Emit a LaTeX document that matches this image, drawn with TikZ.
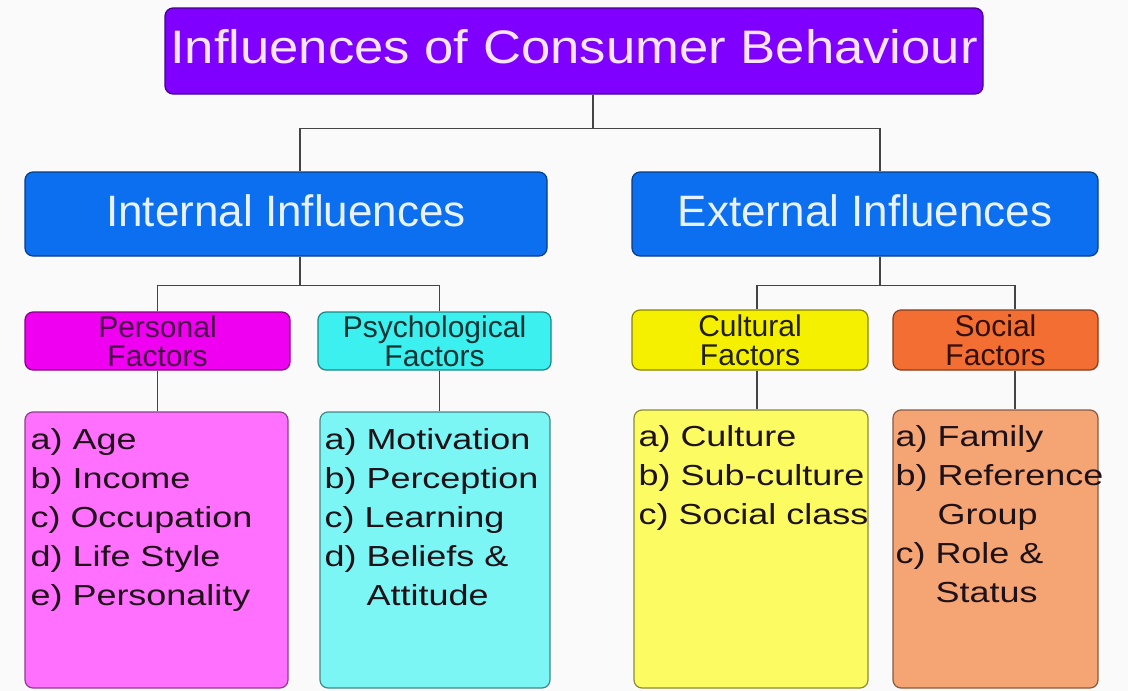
\documentclass[tikz,border=0pt]{standalone}
\usepackage{fontspec}
\setmainfont{Liberation Sans}
\newfontfamily\titlefont[FakeStretch=1.12]{Liberation Sans}
\newfontfamily\listfont[FakeStretch=1.24]{Liberation Sans}

\definecolor{pagebg}{HTML}{FBFAFA}
\definecolor{linkgray}{HTML}{444444}
\definecolor{titlefill}{HTML}{7F00FF}
\definecolor{titletext}{HTML}{F8E4F8}
\definecolor{headfill}{HTML}{0C6FF0}
\definecolor{headtext}{HTML}{E8F2FF}
\definecolor{persfill}{HTML}{F000F0}
\definecolor{perstext}{HTML}{4A0048}
\definecolor{psychfill}{HTML}{3CF0F0}
\definecolor{psychtext}{HTML}{103434}
\definecolor{cultfill}{HTML}{F5F000}
\definecolor{culttext}{HTML}{222000}
\definecolor{socfill}{HTML}{F26E32}
\definecolor{soctext}{HTML}{331000}
\definecolor{perslist}{HTML}{FF70FF}
\definecolor{psychlist}{HTML}{7CF5F5}
\definecolor{cultlist}{HTML}{FCFC62}
\definecolor{soclist}{HTML}{F5A474}
\definecolor{listtextcol}{HTML}{1E1218}

\begin{document}
\begin{tikzpicture}[x=1pt,y=-1pt,
  box/.style={draw=#1!55!black, fill=#1, rounded corners=8pt, line width=1.2pt, inner sep=0pt},
  head/.style={minimum height=84pt, text=headtext, text depth=6pt, font=\fontsize{44}{48}\selectfont},
  factor/.style={minimum height=58pt, align=center, font=\fontsize{30}{29}\selectfont},
  listtext/.style={align=left, inner sep=0pt, text=listtextcol, font=\listfont\fontsize{29}{39}\selectfont},
  link/.style={draw=linkgray, line width=1.6pt}]

\path[use as bounding box, fill=pagebg] (0,0) rectangle (1128,691);

\node[box=titlefill, minimum width=818pt, minimum height=86pt, text=titletext, text depth=9pt,
  font=\titlefont\fontsize{47}{50}\selectfont] (title) at (574,51) {Influences of Consumer Behaviour};

\node[box=headfill, head, minimum width=522pt] (internal) at (286,214) {Internal Influences};
\node[box=headfill, head, minimum width=466pt] (external) at (865,214) {External Influences};

\node[box=persfill, factor, minimum width=265pt, text=perstext] (personal) at (157.5,341) {Personal\\Factors};
\node[box=psychfill, factor, minimum width=233pt, text=psychtext] (psych) at (434.5,341) {Psychological\\Factors};
\node[box=cultfill, factor, minimum width=236pt, minimum height=60pt, text=culttext] (cultural) at (750,340) {Cultural\\Factors};
\node[box=socfill, factor, minimum width=205pt, minimum height=60pt, text=soctext] (social) at (995.5,340) {Social\\Factors};

\node[box=perslist, minimum width=263pt, minimum height=276pt] (perslistbox) at (156.5,550) {};
\node[box=psychlist, minimum width=230pt, minimum height=276pt] (psychlistbox) at (435,550) {};
\node[box=cultlist, minimum width=234pt, minimum height=278pt] (cultlistbox) at (751,549) {};
\node[box=soclist, minimum width=205pt, minimum height=278pt] (soclistbox) at (995.5,549) {};

\node[listtext, anchor=north west] (perslisttext) at ([xshift=6pt,yshift=-17pt]perslistbox.north west)
  {a) Age\\b) Income\\c) Occupation\\d) Life Style\\e) Personality};
\node[listtext, anchor=north west] (psychlisttext) at ([xshift=5pt,yshift=-17pt]psychlistbox.north west)
  {a) Motivation\\b) Perception\\c) Learning\\d) Beliefs \&\\\hphantom{d) }Attitude};
\node[listtext, anchor=north west] (cultlisttext) at ([xshift=5pt,yshift=-16pt]cultlistbox.north west)
  {a) Culture\\b) Sub-culture\\c) Social class};
\node[listtext, anchor=north west] (soclisttext) at ([xshift=3pt,yshift=-16pt]soclistbox.north west)
  {a) Family\\b) Reference\\\hphantom{b) }Group\\c) Role \&\\\hphantom{c) }Status};

\draw[link] ([xshift=19pt]title.south) -- ++(0,34) coordinate (topbus);
\draw[link] ([xshift=14pt]internal.north) |- (topbus) -| ([xshift=15pt]external.north);

\draw[link] ([xshift=14pt]internal.south) -- ++(0,29) coordinate (intbus);
\draw[link] (personal.north) |- (intbus) -| ([xshift=5pt]psych.north);
\draw[link] (personal.south) -- (personal.south |- perslistbox.north);
\draw[link] ([xshift=5pt]psych.south) -- ([xshift=5pt]psych.south |- psychlistbox.north);

\draw[link] ([xshift=15pt]external.south) -- ++(0,29) coordinate (extbus);
\draw[link] ([xshift=7pt]cultural.north) |- (extbus) -| ([xshift=19.5pt]social.north);
\draw[link] ([xshift=7pt]cultural.south) -- ([xshift=7pt]cultural.south |- cultlistbox.north);
\draw[link] ([xshift=19.5pt]social.south) -- ([xshift=19.5pt]social.south |- soclistbox.north);
\end{tikzpicture}
\end{document}
